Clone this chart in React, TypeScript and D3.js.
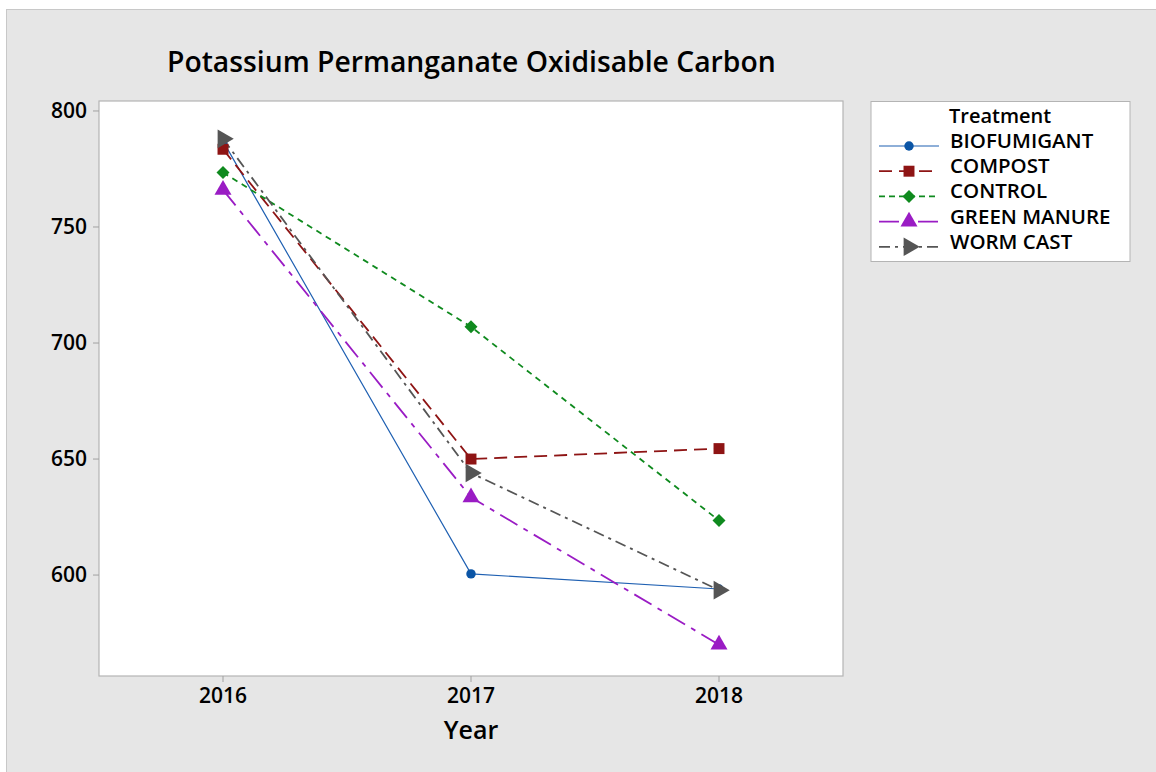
import * as d3 from 'd3'

const years: number[] = [2016, 2017, 2018]
const yTicks: number[] = [600, 650, 700, 750, 800]
const treatments: string[] = ['BIOFUMIGANT', 'COMPOST', 'CONTROL', 'GREEN MANURE', 'WORM CAST']

const biofumigant: number[] = [787, 600.5, 594]
const compost: number[] = [783.5, 650, 654.5]
const control: number[] = [773.5, 707, 623.5]
const greenManure: number[] = [766, 633.5, 570]
const wormCast: number[] = [788, 644, 593.5]

const seriesValues: number[][] = [biofumigant, compost, control, greenManure, wormCast]

const styles: any[] = [
  { color: '#1f60b2', marker: '#0b55a6', dash: 'none', legendDash: 'none', symbol: d3.symbolCircle, size: 70, rotate: 0, width: 1.2 },
  { color: '#8e1414', marker: '#8e1414', dash: '13,7', legendDash: '13,7', symbol: d3.symbolSquare, size: 120, rotate: 0, width: 1.8 },
  { color: '#0f8a1e', marker: '#0f8a1e', dash: '6,5', legendDash: '6,4', symbol: d3.symbolSquare, size: 85, rotate: 45, width: 1.8 },
  { color: '#9a1cc4', marker: '#9a1cc4', dash: '20,7,5,7', legendDash: '20,7,5,7', symbol: d3.symbolTriangle, size: 125, rotate: 0, width: 1.8 },
  { color: '#555555', marker: '#555555', dash: '11,5,3,5', legendDash: '11,5,3,5', symbol: d3.symbolTriangle, size: 150, rotate: 90, width: 1.8 },
]

const font = '"Open Sans", "Noto Sans", sans-serif'

const plot = { left: 99, right: 843, top: 101, bottom: 676 }

export default function App() {
  const x = d3.scaleLinear().domain([2015.5, 2018.5]).range([plot.left, plot.right])
  const y = d3.scaleLinear().domain([556.5, 804.3]).range([plot.bottom, plot.top])

  const line = d3.line<number>()
    .x((_, i) => x(years[i]))
    .y((d) => y(d))

  return (
    <svg width={1156} height={772} style={{ position: 'absolute', left: 0, top: 0 }} fontFamily={font}>
      <rect x={0} y={0} width={1156} height={772} fill="#ffffff" />
      <rect x={6.5} y={9.5} width={1160} height={780} fill="#e6e6e6" stroke="#c8c8c8" />

      <text x={167} y={72} fontSize={28.3} fontWeight={600} fill="#000">
        Potassium Permanganate Oxidisable Carbon
      </text>

      <rect x={plot.left} y={plot.top} width={plot.right - plot.left} height={plot.bottom - plot.top}
        fill="#ffffff" stroke="#b4b4b4" strokeWidth={1.2} />

      {yTicks.map((t) => (
        <g key={t}>
          <line x1={plot.left - 6} x2={plot.left} y1={y(t)} y2={y(t)} stroke="#a0a0a0" />
          <text x={plot.left - 12} y={y(t)} dy="0.35em" textAnchor="end" fontSize={21} fontWeight={600} fill="#000">{t}</text>
        </g>
      ))}

      {years.map((t) => (
        <g key={t}>
          <line x1={x(t)} x2={x(t)} y1={plot.bottom} y2={plot.bottom + 6} stroke="#a0a0a0" />
          <text x={x(t)} y={plot.bottom + 27} textAnchor="middle" fontSize={21} fontWeight={600} fill="#000">{t}</text>
        </g>
      ))}

      <text x={x(2017)} y={739} textAnchor="middle" fontSize={25} fontWeight={600} fill="#000">Year</text>

      {seriesValues.map((vals, si) => (
        <path key={'l' + si} d={line(vals) || ''} fill="none" stroke={styles[si].color}
          strokeWidth={styles[si].width} strokeDasharray={styles[si].dash} />
      ))}
      {seriesValues.map((vals, si) => (
        <g key={'m' + si}>
          {vals.map((v, i) => (
            <path key={i} d={d3.symbol().type(styles[si].symbol).size(styles[si].size)() || ''}
              transform={`translate(${x(years[i])},${y(v)}) rotate(${styles[si].rotate})`}
              fill={styles[si].marker} />
          ))}
        </g>
      ))}

      <g>
        <rect x={871} y={101.5} width={259} height={160} fill="#ffffff" stroke="#b4b4b4" />
        <text x={949} y={123} fontSize={20} fontWeight={600} fill="#000">Treatment</text>
        {treatments.map((name, i) => {
          const ly = 146 + i * 25.2
          const s = styles[i]
          return (
            <g key={name}>
              <line x1={879} x2={939} y1={ly} y2={ly} stroke={s.color} strokeWidth={s.width}
                strokeDasharray={s.legendDash} />
              <path d={d3.symbol().type(s.symbol).size(s.size)() || ''}
                transform={`translate(909,${ly}) rotate(${s.rotate})`} fill={s.marker} />
              <text x={950} y={ly} dy="0.1em" fontSize={20.5} fontWeight={600} fill="#000">{name}</text>
            </g>
          )
        })}
      </g>
    </svg>
  )
}
